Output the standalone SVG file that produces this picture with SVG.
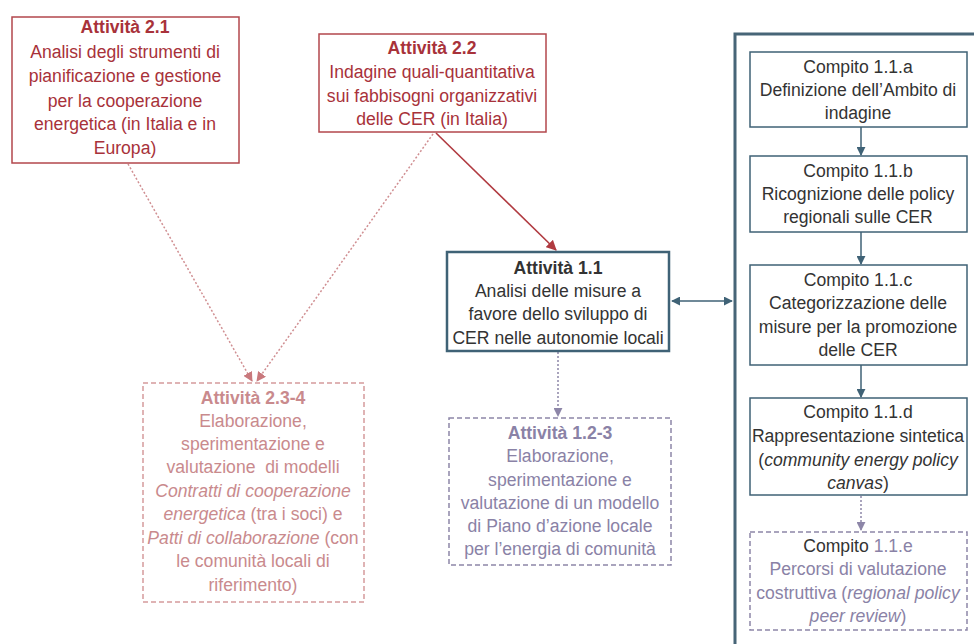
<svg xmlns="http://www.w3.org/2000/svg" width="974" height="644" viewBox="0 0 974 644">
<style>
text{font-family:"Liberation Sans","Noto Sans",Arial,sans-serif;font-size:17.6px;text-anchor:middle}
.b{font-weight:bold}
.i{font-style:italic}
.red{fill:#a8323a}
.pink{fill:#c98a8d}
.purp{fill:#8a82a6}
.dk{fill:#333}
.boxred{fill:#fff;stroke:#b3474c;stroke-width:1.5}
.boxpink{fill:#fff;stroke:#d59a9c;stroke-width:1.5;stroke-dasharray:5,3}
.boxpurp{fill:#fff;stroke:#8d86a8;stroke-width:1.5;stroke-dasharray:5,3}
.boxteal{fill:#fff;stroke:#3f6276;stroke-width:1.5}
.cred{stroke:#b03a40;stroke-width:1.6;fill:none}
.cpink{stroke:#d08f92;stroke-width:1.5;fill:none;stroke-dasharray:2,2}
.cpurp{stroke:#8d86a8;stroke-width:1.5;fill:none;stroke-dasharray:2,2}
.cteal{stroke:#3f6276;stroke-width:1.5;fill:none}
</style>
<defs>
<marker id="aRed" viewBox="0 0 10 10" refX="9" refY="5" markerWidth="6.5" markerHeight="6.5" orient="auto"><path d="M0,0L10,5L0,10z" fill="#b03a40"/></marker>
<marker id="aPink" viewBox="0 0 10 10" refX="9" refY="5" markerWidth="6.5" markerHeight="6.5" orient="auto"><path d="M0,0L10,5L0,10z" fill="#c9797d"/></marker>
<marker id="aPurp" viewBox="0 0 10 10" refX="9" refY="5" markerWidth="6" markerHeight="6" orient="auto"><path d="M0,0L10,5L0,10z" fill="#8d86a8"/></marker>
<marker id="aTeal" viewBox="0 0 10 10" refX="9" refY="5" markerWidth="6" markerHeight="6" orient="auto-start-reverse"><path d="M0,0L10,5L0,10z" fill="#3f6276"/></marker>
</defs>

<g id="connectors">
<line class="cpink" x1="128" y1="164" x2="252" y2="381" marker-end="url(#aPink)"/>
<line class="cpink" x1="433" y1="134" x2="257" y2="381" marker-end="url(#aPink)"/>
<line class="cred" x1="436" y1="133" x2="556" y2="250" marker-end="url(#aRed)"/>
<line class="cpurp" x1="558" y1="352" x2="558" y2="416" marker-end="url(#aPurp)"/>
<line class="cteal" x1="672" y1="301" x2="732" y2="301" marker-start="url(#aTeal)" marker-end="url(#aTeal)"/>
<line class="cteal" x1="861" y1="127" x2="861" y2="155" marker-end="url(#aTeal)"/>
<line class="cteal" x1="861" y1="232" x2="861" y2="264" marker-end="url(#aTeal)"/>
<line class="cteal" x1="861" y1="365" x2="861" y2="397" marker-end="url(#aTeal)"/>
<line class="cpurp" x1="861" y1="496" x2="861" y2="530" marker-end="url(#aPurp)"/>
</g>

<g id="container">
<path d="M735,646 V34 H976" fill="none" stroke="#476577" stroke-width="3"/>
</g>

<g id="a21">
<rect class="boxred" x="12" y="17" width="227" height="146"/>
<text x="125" y="33" class="b red">Attività 2.1</text>
<text class="red" x="125" y="58">Analisi degli strumenti di</text>
<text class="red" x="125" y="82">pianificazione e gestione</text>
<text class="red" x="125" y="107">per la cooperazione</text>
<text class="red" x="125" y="130">energetica (in Italia e in</text>
<text class="red" x="125" y="154">Europa)</text>
</g>

<g id="a22">
<rect class="boxred" x="319" y="34" width="227" height="98"/>
<text x="432" y="54" class="b red">Attività 2.2</text>
<text class="red" x="432" y="78">Indagine quali-quantitativa</text>
<text class="red" x="432" y="102">sui fabbisogni organizzativi</text>
<text class="red" x="432" y="125">delle CER (in Italia)</text>
</g>

<g id="a11">
<rect x="447" y="252" width="222" height="99" fill="#fff" stroke="#3f6276" stroke-width="2.5"/>
<text x="558" y="274" class="b dk">Attività 1.1</text>
<text class="dk" x="558" y="297">Analisi delle misure a</text>
<text class="dk" x="558" y="320">favore dello sviluppo di</text>
<text class="dk" x="558" y="344">CER nelle autonomie locali</text>
</g>

<g id="a234">
<rect class="boxpink" x="143" y="383" width="221" height="219"/>
<text x="253" y="404" class="b pink">Attività 2.3-4</text>
<text class="pink" x="253" y="427">Elaborazione,</text>
<text class="pink" x="253" y="450">sperimentazione e</text>
<text class="pink" x="253" y="473" xml:space="preserve">valutazione  di modelli</text>
<text class="pink i" x="253" y="497">Contratti di cooperazione</text>
<text class="pink" x="253" y="520"><tspan class="i">energetica</tspan> (tra i soci) e</text>
<text class="pink" x="253" y="544"><tspan class="i">Patti di collaborazione</tspan> (con</text>
<text class="pink" x="253" y="567">le comunità locali di</text>
<text class="pink" x="253" y="591">riferimento)</text>
</g>

<g id="a123">
<rect class="boxpurp" x="449" y="418" width="222" height="147"/>
<text x="560" y="439" class="b purp">Attività 1.2-3</text>
<text class="purp" x="560" y="462">Elaborazione,</text>
<text class="purp" x="560" y="486">sperimentazione e</text>
<text class="purp" x="560" y="509">valutazione di un modello</text>
<text class="purp" x="560" y="532">di Piano d’azione locale</text>
<text class="purp" x="560" y="555">per l’energia di comunità</text>
</g>

<g id="c11a">
<rect class="boxteal" x="750" y="52" width="217" height="75"/>
<text class="dk" x="858" y="73">Compito 1.1.a</text>
<text class="dk" x="858" y="96">Definizione dell’Ambito di</text>
<text class="dk" x="858" y="119">indagine</text>
</g>

<g id="c11b">
<rect class="boxteal" x="750" y="156" width="217" height="76"/>
<text class="dk" x="858" y="177">Compito 1.1.b</text>
<text class="dk" x="858" y="200">Ricognizione delle policy</text>
<text class="dk" x="858" y="223">regionali sulle CER</text>
</g>

<g id="c11c">
<rect class="boxteal" x="750" y="265" width="217" height="100"/>
<text class="dk" x="858" y="286">Compito 1.1.c</text>
<text class="dk" x="858" y="309">Categorizzazione delle</text>
<text class="dk" x="858" y="333">misure per la promozione</text>
<text class="dk" x="858" y="356">delle CER</text>
</g>

<g id="c11d">
<rect class="boxteal" x="750" y="398" width="217" height="97"/>
<text class="dk" x="858" y="418">Compito 1.1.d</text>
<text class="dk" x="858" y="442">Rappresentazione sintetica</text>
<text class="dk" x="858" y="466">(<tspan class="i">community energy policy</tspan></text>
<text class="dk" x="858" y="489"><tspan class="i">canvas</tspan>)</text>
</g>

<g id="c11e">
<rect class="boxpurp" x="750" y="532" width="217" height="98"/>
<text class="dk" x="858" y="552">Compito <tspan class="purp">1.1.e</tspan></text>
<text class="purp" x="858" y="575">Percorsi di valutazione</text>
<text class="purp" x="858" y="599">costruttiva (<tspan class="i">regional policy</tspan></text>
<text class="purp" x="858" y="622"><tspan class="i">peer review</tspan>)</text>
</g>
</svg>
